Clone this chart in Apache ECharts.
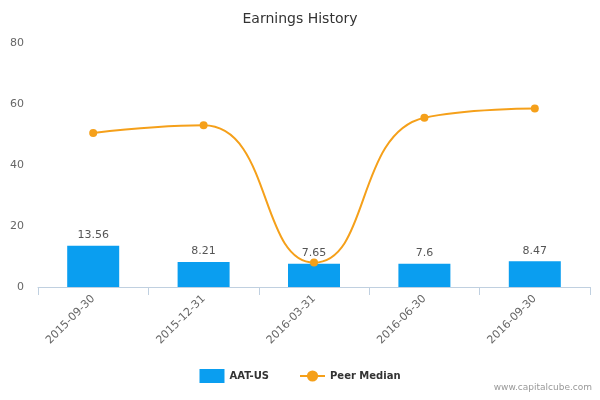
<!DOCTYPE html>
<html><head><meta charset="utf-8">
<script src="https://cdn.jsdelivr.net/npm/echarts@6/dist/echarts.min.js"></script>
<style>html,body{margin:0;padding:0}#c{width:600px;height:400px}</style>
</head><body><div id="c"></div>
<script>
const categories = ['2015-09-30', '2015-12-31', '2016-03-31', '2016-06-30', '2016-09-30'];
const companyValues = [13.56, 8.21, 7.65, 7.6, 8.47];
const peerMedian = [50.5, 53, 8, 55.5, 58.5];

const chart = echarts.init(document.getElementById('c'));
chart.setOption({
  animation: false,
  title: { text: 'Earnings History', left: 'center', top: 7,
    textStyle: { fontFamily: 'DejaVu Sans', fontSize: 14, fontWeight: 'normal', color: '#333' } },
  grid: { left: 38, right: 10, top: 43, bottom: 113 },
  legend: { bottom: 12, left: 'center', itemGap: 30,
    textStyle: { fontFamily: 'DejaVu Sans', fontSize: 10, fontWeight: 'bold', color: '#333' },
    data: [{ name: 'AAT-US', icon: 'rect' }, { name: 'Peer Median' }] },
  graphic: [{ type: 'text', right: 8, bottom: 8,
    style: { text: 'www.capitalcube.com', fill: '#999', font: '9px DejaVu Sans' } }],
  xAxis: { type: 'category', data: categories,
    axisLine: { lineStyle: { color: '#c0d0e0' } },
    axisTick: { show: true, length: 8, lineStyle: { color: '#c0d0e0' } },
    axisLabel: { rotate: 45, color: '#666', fontFamily: 'DejaVu Sans', fontSize: 11, margin: 10 } },
  yAxis: { type: 'value', min: 0, max: 80, interval: 20,
    splitLine: { show: false },
    axisLabel: { color: '#666', fontFamily: 'DejaVu Sans', fontSize: 11, margin: 14 } },
  series: [
    { name: 'AAT-US', type: 'bar', data: companyValues, barWidth: 52,
      itemStyle: { color: '#0a9ef0' },
      label: { show: true, position: 'top', color: '#555', fontFamily: 'DejaVu Sans', fontSize: 11 } },
    { name: 'Peer Median', type: 'line', data: peerMedian, smooth: 0.5,
      symbol: 'circle', symbolSize: 8,
      lineStyle: { color: '#f5a01a', width: 2 }, itemStyle: { color: '#f5a01a' } }
  ]
});
</script></body></html>
